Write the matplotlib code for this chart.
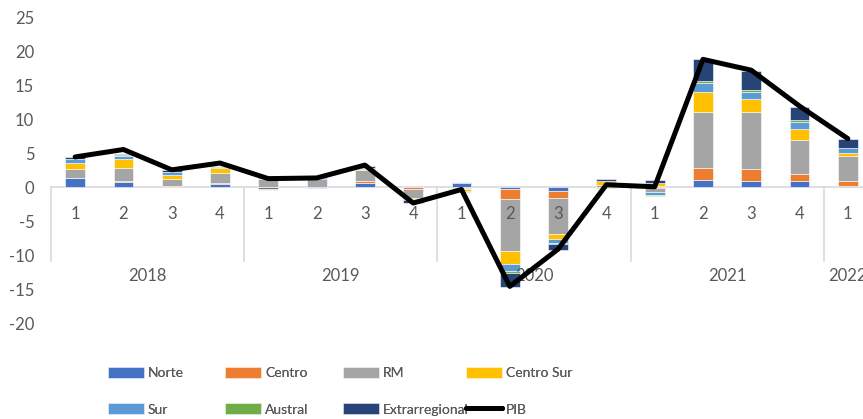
import matplotlib
matplotlib.use("Agg")
import matplotlib.pyplot as plt
import numpy as np

plt.rcParams['font.family'] = ['Lato', 'DejaVu Sans']
plt.rcParams['axes.unicode_minus'] = False

quarters = ["1", "2", "3", "4", "1", "2", "3", "4", "1", "2", "3", "4", "1", "2", "3", "4", "1"]
years = ["2018", "2019", "2020", "2021", "2022"]
year_sizes = [4, 4, 4, 4, 1]

norte = [1.4, 0.8, 0.1, 0.5, -0.3, 0.0, 0.65, 0.0, 0.6, -0.2, -0.5, 0.05, -0.15, 1.1, 0.9, 0.95, 0.25]
centro = [0.05, 0.2, 0.1, 0.2, 0.0, 0.0, 0.25, -0.2, -0.05, -1.45, -1.1, 0.05, 0.15, 1.7, 1.8, 1.1, 0.7]
rm = [1.3, 1.9, 1.0, 1.5, 1.2, 1.2, 1.6, -1.3, -0.2, -7.7, -5.3, 0.3, -0.5, 8.4, 8.5, 5.0, 3.65]
centro_sur = [0.9, 1.35, 0.65, 0.7, -0.15, 0.1, 0.2, -0.15, -0.3, -2.0, -0.75, 0.5, 0.5, 2.95, 1.9, 1.6, 0.45]
sur = [0.5, 0.4, 0.45, 0.15, 0.2, -0.1, 0.15, -0.1, 0.2, -0.95, -0.5, 0.05, -0.4, 1.3, 1.0, 0.95, 0.7]
austral = [0.1, 0.2, 0.05, 0.05, 0.05, 0.0, 0.05, -0.05, -0.05, -0.3, -0.15, -0.15, -0.2, 0.25, 0.25, 0.3, 0.1]
extrarregional = [0.2, 0.1, 0.15, 0.05, 0.2, 0.05, 0.3, -0.5, 0.0, -2.1, -0.9, 0.3, 0.5, 3.2, 2.8, 2.0, 1.25]
pib = [4.5, 5.6, 2.6, 3.6, 1.3, 1.4, 3.3, -2.3, -0.3, -14.6, -9.1, 0.4, 0.1, 18.9, 17.3, 12.0, 7.2]

series = [
    ("Norte", norte, "#4472C4"),
    ("Centro", centro, "#ED7D31"),
    ("RM", rm, "#A5A5A5"),
    ("Centro Sur", centro_sur, "#FFC000"),
    ("Sur", sur, "#5B9BD5"),
    ("Austral", austral, "#70AD47"),
    ("Extrarregional", extrarregional, "#264478"),
]

W, H = 863, 419
fig = plt.figure(figsize=(W / 100, H / 100), dpi=100)
ax = fig.add_axes([51 / W, 1 - 323 / H, 821 / W, 305 / H])

x = np.arange(len(quarters))
pos_bottom = np.zeros(len(x))
neg_bottom = np.zeros(len(x))
handles = []
for name, vals, color in series:
    v = np.array(vals, dtype=float)
    bottom = np.where(v >= 0, pos_bottom, neg_bottom)
    b = ax.bar(x, v, width=0.41, bottom=bottom, color=color, label=name,
               edgecolor="white", linewidth=0.4, zorder=2)
    handles.append(b)
    pos_bottom += np.where(v >= 0, v, 0)
    neg_bottom += np.where(v < 0, v, 0)

line, = ax.plot(x, pib, color="black", linewidth=3.6, label="PIB", zorder=5,
                solid_capstyle="round", solid_joinstyle="round")

ax.set_xlim(-0.5, 16.5)
ax.set_ylim(-20, 25)
ax.set_yticks(np.arange(-20, 26, 5))
ax.tick_params(axis="y", length=0, pad=12, labelsize=12, labelcolor="#595959")
ax.set_xticks([])
for s in ax.spines.values():
    s.set_visible(False)

grey = "#595959"
axis_col = "#D9D9D9"
ax.axhline(0, color=axis_col, linewidth=1.2, zorder=1)

# multi-level category labels
for i, q in enumerate(quarters):
    ax.text(i, -3.85, q, ha="center", va="center", fontsize=12, color=grey, zorder=3)
start = 0
dividers = [-0.5]
for yr, n in zip(years, year_sizes):
    ax.text(start + (n - 1) / 2, -13.1, yr, ha="center", va="center", fontsize=12,
            color=grey, zorder=3)
    start += n
    dividers.append(start - 0.5)
for d in dividers[:-1]:
    ax.plot([d, d], [0, -10.8], color=axis_col, linewidth=1.2, zorder=1, clip_on=False)

# legend: four columns of two entries each
all_handles = handles + [line]
labels = [s[0] for s in series] + ["PIB"]
col_x = [108, 225, 343, 466]
for c in range(4):
    hs = [all_handles[c], all_handles[c + 4]]
    ls = [labels[c], labels[c + 4]]
    lg = fig.legend(hs, ls, loc="upper left", bbox_to_anchor=(col_x[c] / W, 1 - 367 / H),
                    frameon=False, handlelength=2.6, handleheight=0.79,
                    handletextpad=0.28, labelspacing=1.75, borderpad=0, borderaxespad=0,
                    labelcolor=grey, prop={"family": ["Lato"], "size": 10})
    fig.add_artist(lg)

fig.savefig("out.png", dpi=100)
